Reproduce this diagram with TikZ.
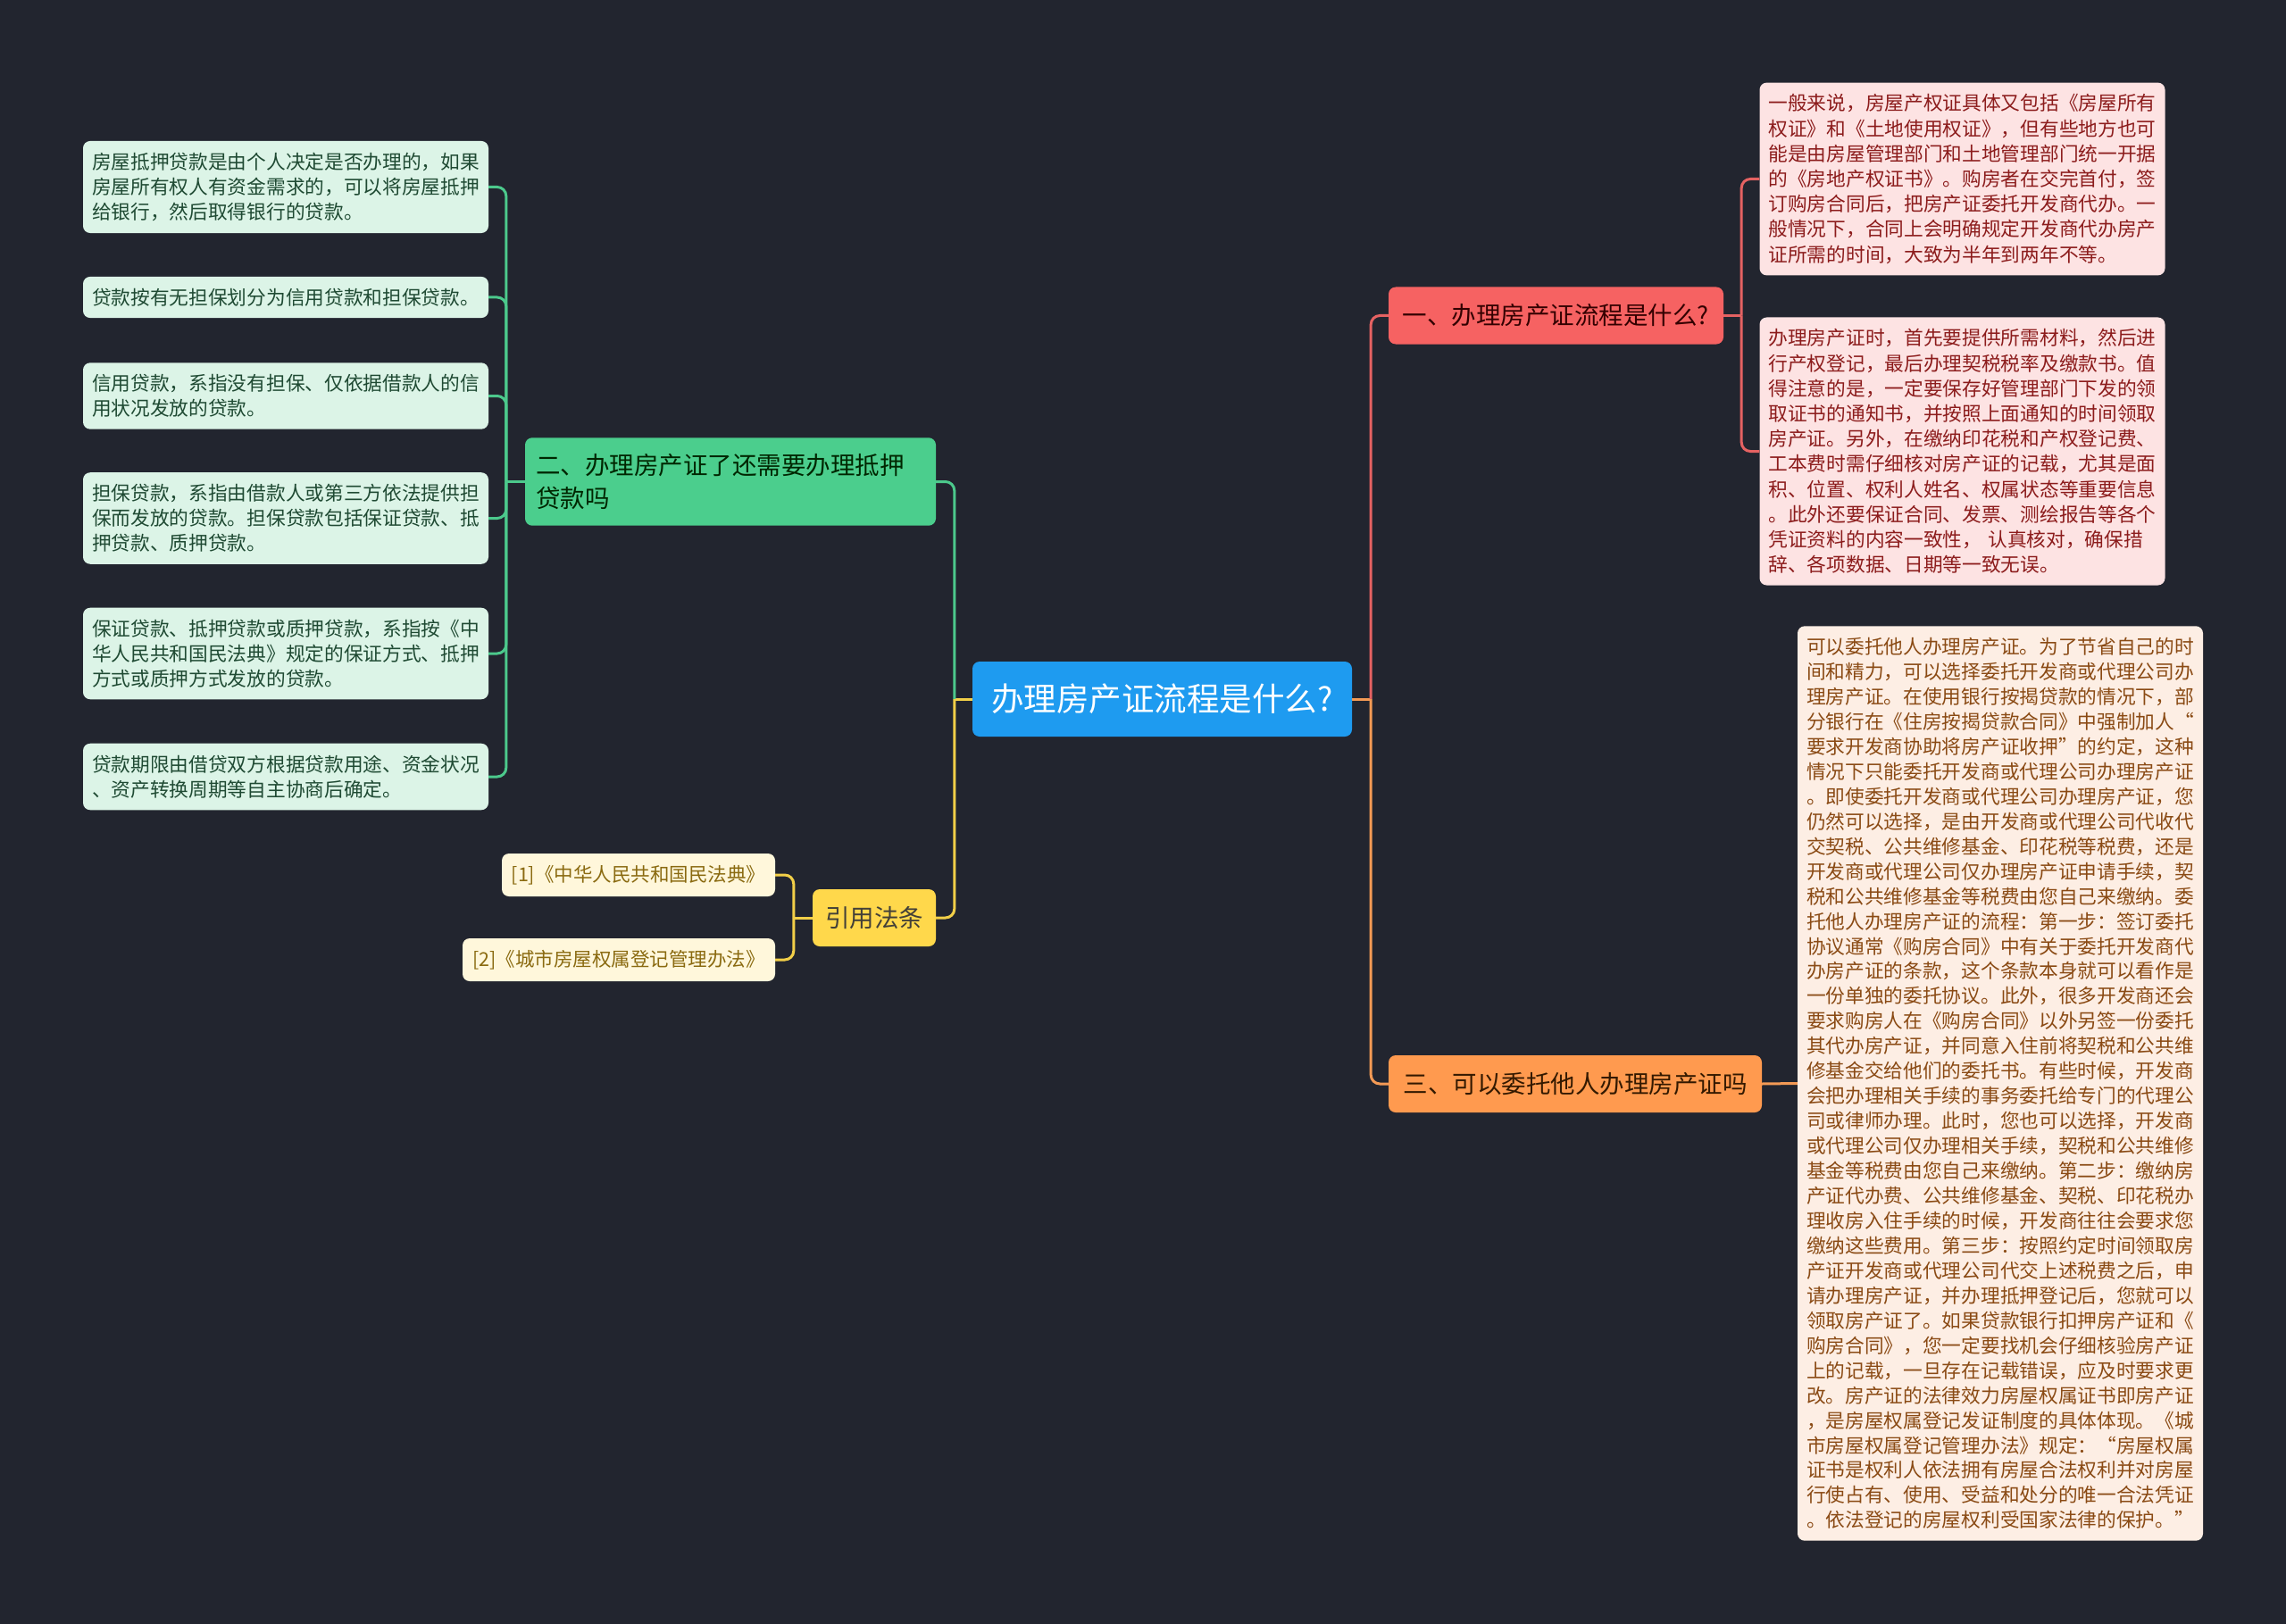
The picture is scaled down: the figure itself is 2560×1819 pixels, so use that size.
\documentclass[tikz,border=0pt]{standalone}
\usepackage{fontspec}
\setmainfont{Noto Sans CJK SC}
\usepackage{xcolor}
\usetikzlibrary{positioning}
\definecolor{bgnavy}{HTML}{22252F}
\definecolor{rootblue}{HTML}{1E9BF0}
\definecolor{secred}{HTML}{F66262}
\definecolor{secorange}{HTML}{FF9A4F}
\definecolor{secgreen}{HTML}{4BCE8D}
\definecolor{secyellow}{HTML}{FFD84B}
\definecolor{pinkleaf}{HTML}{FDE3E3}
\definecolor{pinktext}{HTML}{8C1C1C}
\definecolor{peachleaf}{HTML}{FDEEE4}
\definecolor{peachtext}{HTML}{8A4A14}
\definecolor{greenleaf}{HTML}{DCF4E7}
\definecolor{greentext}{HTML}{1F4A33}
\definecolor{refcream}{HTML}{FFF7DB}
\definecolor{reftext}{HTML}{8A6A10}
\definecolor{linkred}{HTML}{E56262}
\definecolor{linkorange}{HTML}{F39A55}
\definecolor{linkgreen}{HTML}{4CC98C}
\definecolor{linkyellow}{HTML}{F2CF48}
\tikzset{
  rootbox/.style={rectangle, rounded corners=8pt, fill=rootblue, text=white, align=center, inner sep=0pt, minimum width=425pt, minimum height=84pt, font=\fontsize{36.5pt}{44pt}\selectfont},
  secbox/.style={rectangle, rounded corners=8pt, align=center, inner sep=0pt, minimum height=64pt, font=\fontsize{27.5pt}{37pt}\selectfont},
  leafbox/.style={rectangle, rounded corners=8pt, align=left, text width=434pt, inner xsep=10pt, inner ysep=13pt, font=\fontsize{21.7pt}{28.2pt}\selectfont},
  pinkbox/.style={leafbox, fill=pinkleaf, text=pinktext},
  peachbox/.style={leafbox, fill=peachleaf, text=peachtext, font=\fontsize{21.7pt}{27.95pt}\selectfont},
  greenbox/.style={leafbox, fill=greenleaf, text=greentext},
  refbox/.style={rectangle, rounded corners=8pt, align=center, inner sep=0pt, minimum height=48pt, fill=refcream, text=reftext, font=\fontsize{21.5pt}{26pt}\selectfont},
  link/.style={line width=3pt, rounded corners=10pt},
}
\begin{document}
\begin{tikzpicture}[x=1pt, y=-1pt]
  \fill[bgnavy] (0,0) rectangle (2560,1819);
  % centre and main branches
  \node[rootbox] (root) at (1301.5,783) {办理房产证流程是什么?};
  \node[secbox, fill=secred, text=black!80!red, minimum width=375pt] (sec1) at (1742.5,353.5) {一、办理房产证流程是什么?};
  \node[secbox, fill=secorange, text=black!80!orange, minimum width=418pt] (sec3) at (1764,1214) {三、可以委托他人办理房产证吗};
  \node[secbox, fill=secgreen, text=black!85!green, align=left, text width=436pt, inner xsep=12pt, inner ysep=18pt] (sec2) at (818,539.5) {二、办理房产证了还需要办理抵押\\贷款吗};
  \node[secbox, fill=secyellow, text=black!85!yellow, minimum width=138pt] (cite) at (979,1028) {引用法条};
  % right leaves
  \node[pinkbox] (p1) at (2197.5,200.5) {一般来说，房屋产权证具体又包括《房屋所有\\权证》和《土地使用权证》，但有些地方也可\\能是由房屋管理部门和土地管理部门统一开据\\的《房地产权证书》。购房者在交完首付，签\\订购房合同后，把房产证委托开发商代办。一\\般情况下，合同上会明确规定开发商代办房产\\证所需的时间，大致为半年到两年不等。};
  \node[pinkbox] (p2) at (2197.5,505.5) {办理房产证时，首先要提供所需材料，然后进\\行产权登记，最后办理契税税率及缴款书。值\\得注意的是，一定要保存好管理部门下发的领\\取证书的通知书，并按照上面通知的时间领取\\房产证。另外，在缴纳印花税和产权登记费、\\工本费时需仔细核对房产证的记载，尤其是面\\积、位置、权利人姓名、权属状态等重要信息\\。此外还要保证合同、发票、测绘报告等各个\\凭证资料的内容一致性， 认真核对，确保措\\辞、各项数据、日期等一致无误。};
  \node[peachbox] (q1) at (2240,1213.5) {可以委托他人办理房产证。为了节省自己的时\\间和精力，可以选择委托开发商或代理公司办\\理房产证。在使用银行按揭贷款的情况下，部\\分银行在《住房按揭贷款合同》中强制加人“\\要求开发商协助将房产证收押”的约定，这种\\情况下只能委托开发商或代理公司办理房产证\\。即使委托开发商或代理公司办理房产证，您\\仍然可以选择，是由开发商或代理公司代收代\\交契税、公共维修基金、印花税等税费，还是\\开发商或代理公司仅办理房产证申请手续，契\\税和公共维修基金等税费由您自己来缴纳。委\\托他人办理房产证的流程：第一步：签订委托\\协议通常《购房合同》中有关于委托开发商代\\办房产证的条款，这个条款本身就可以看作是\\一份单独的委托协议。此外，很多开发商还会\\要求购房人在《购房合同》以外另签一份委托\\其代办房产证，并同意入住前将契税和公共维\\修基金交给他们的委托书。有些时候，开发商\\会把办理相关手续的事务委托给专门的代理公\\司或律师办理。此时，您也可以选择，开发商\\或代理公司仅办理相关手续，契税和公共维修\\基金等税费由您自己来缴纳。第二步：缴纳房\\产证代办费、公共维修基金、契税、印花税办\\理收房入住手续的时候，开发商往往会要求您\\缴纳这些费用。第三步：按照约定时间领取房\\产证开发商或代理公司代交上述税费之后，申\\请办理房产证，并办理抵押登记后，您就可以\\领取房产证了。如果贷款银行扣押房产证和《\\购房合同》，您一定要找机会仔细核验房产证\\上的记载，一旦存在记载错误，应及时要求更\\改。房产证的法律效力房屋权属证书即房产证\\，是房屋权属登记发证制度的具体体现。《城\\市房屋权属登记管理办法》规定：“房屋权属\\证书是权利人依法拥有房屋合法权利并对房屋\\行使占有、使用、受益和处分的唯一合法凭证\\。依法登记的房屋权利受国家法律的保护。”};
  % left leaves
  \node[greenbox] (g1) at (320,209.5) {房屋抵押贷款是由个人决定是否办理的，如果\\房屋所有权人有资金需求的，可以将房屋抵押\\给银行，然后取得银行的贷款。};
  \node[greenbox] (g2) at (320,333) {贷款按有无担保划分为信用贷款和担保贷款。};
  \node[greenbox] (g3) at (320,443.5) {信用贷款，系指没有担保、仅依据借款人的信\\用状况发放的贷款。};
  \node[greenbox] (g4) at (320,580.5) {担保贷款，系指由借款人或第三方依法提供担\\保而发放的贷款。担保贷款包括保证贷款、抵\\押贷款、质押贷款。};
  \node[greenbox] (g5) at (320,732) {保证贷款、抵押贷款或质押贷款，系指按《中\\华人民共和国民法典》规定的保证方式、抵押\\方式或质押方式发放的贷款。};
  \node[greenbox] (g6) at (320,870) {贷款期限由借贷双方根据贷款用途、资金状况\\、资产转换周期等自主协商后确定。};
  \node[refbox, minimum width=306pt] (r1) at (715,980) {[1]《中华人民共和国民法典》};
  \node[refbox, minimum width=350pt] (r2) at (693,1075) {[2]《城市房屋权属登记管理办法》};
  % junctions
  \coordinate (jroot) at ([xshift=-20pt]root.west);
  \coordinate (jright) at ([xshift=21pt]root.east);
  \coordinate (jsec1) at ([xshift=20pt]sec1.east);
  \coordinate (jsec2) at ([xshift=-21pt]sec2.west);
  \coordinate (jcite) at ([xshift=-21pt]cite.west);
  % connectors
  \draw[link, linkyellow] (root.west) -- (jroot);
  \draw[link, linkgreen] (jroot) |- (sec2.east);
  \draw[link, linkyellow] (jroot) |- (cite.east);
  \draw[link, linkorange] (root.east) -- (jright);
  \draw[link, linkred] (jright) |- (sec1.west);
  \draw[link, linkorange] (jright) |- (sec3.west);
  \draw[link, linkred] (sec1.east) -- (jsec1);
  \foreach \leaf in {p1,p2} \draw[link, linkred] (jsec1) |- (\leaf.west);
  \draw[link, linkorange] (sec3.east) -- (q1.west);
  \draw[link, linkgreen] (sec2.west) -- (jsec2);
  \foreach \leaf in {g1,g2,g3,g4,g5,g6} \draw[link, linkgreen] (jsec2) |- (\leaf.east);
  \draw[link, linkyellow] (cite.west) -- (jcite);
  \foreach \leaf in {r1,r2} \draw[link, linkyellow] (jcite) |- (\leaf.east);
\end{tikzpicture}
\end{document}
